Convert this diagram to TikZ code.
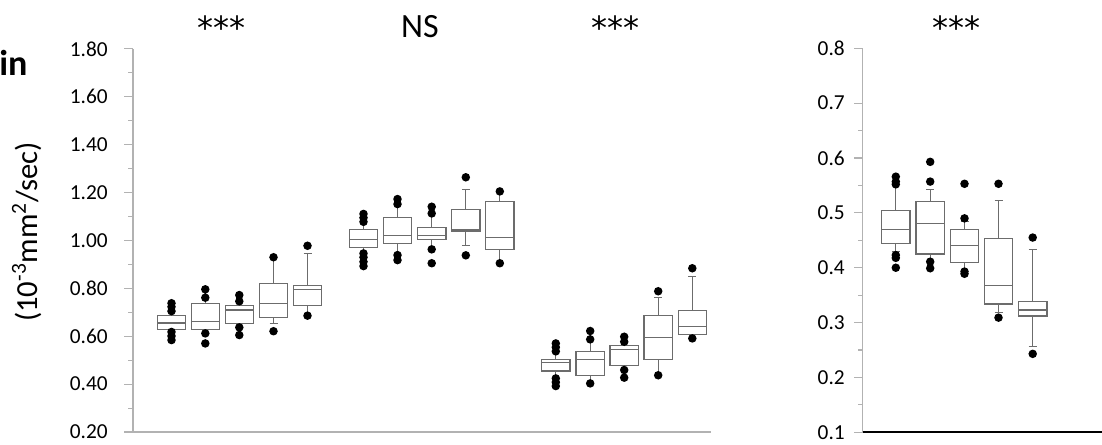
\documentclass[tikz,border=0pt]{standalone}
\usepackage{fontspec}
\setmainfont{Carlito}
\newfontfamily\starfont{DejaVu Sans}

\begin{document}
\begin{tikzpicture}[
		x=0.75pt, y=-0.75pt,
		box/.style={
			draw=gray!85!black,
			line width=0.9pt
		},
		whisker/.style={
			draw=gray!85!black,
			line width=0.6pt
		},
		dot/.style={
			fill=black
		},
		axis/.style={
			draw=gray!60,
			line width=0.8pt
		},
		ticklabel/.style={
			anchor=east,
			inner sep=0pt,
			font=\fontsize{16}{19}\selectfont
		},
		title/.style={
			anchor=base,
			inner sep=0pt,
			font=\fontsize{25.5}{30}\selectfont
		},
		stars/.style={
			anchor=base,
			inner sep=0pt,
			font=\fontsize{24}{28}\starfont
		}
		]
		\useasboundingbox (0,0) rectangle (1102,444);
		
		% Texto cortado y unidades
		\node[anchor=base west, inner sep=0pt, font=\fontsize{27}{30}\selectfont\bfseries] (cut) at (-1,75) {in};
		\node[rotate=90, inner sep=0pt, font=\fontsize{23}{27}\selectfont] (unit) at (27,232) {(10\textsuperscript{-3}mm\textsuperscript{2}/sec)};
		
		% Significancia
		\node[stars] (sig1) at (221,39) {***};
		\node[title] (sig2) at (420,37) {NS};
		\node[stars] (sig3) at (615,39) {***};
		\node[stars] (sig4) at (956,39) {***};
		
		% Panel izquierdo
		\begin{scope}[shift={(0,479.88)}, y=179.55pt]
			\draw[axis] (133,1.8) -- (133,0.2) -- (711,0.2);
			\foreach \v/\t [count=\i] in {0.2/0.20, 0.4/0.40, 0.6/0.60, 0.8/0.80, 1.0/1.00, 1.2/1.20, 1.4/1.40, 1.6/1.60, 1.8/1.80} {
				\draw[axis] (124,\v) -- (133,\v);
				\node[ticklabel] (left\i) at (108,\v) {\t};
			}
			\foreach \v in {0.3,0.5,...,1.7}
				\draw[axis] (128,\v) -- (133,\v);
			
			% Primer grupo
			\draw[whisker] (171.5,0.686) -- (171.5,0.705) (171.5,0.629) -- (171.5,0.618);
			\draw[box] (157.3,0.629) rectangle (185.7,0.686) (157.3,0.655) -- (185.7,0.655);
			\fill[dot] (171.5,0.738) circle (3.2pt) (171.5,0.723) circle (3.2pt) (171.5,0.705) circle (3.2pt) (171.5,0.618) circle (3.2pt) (171.5,0.601) circle (3.2pt) (171.5,0.584) circle (3.2pt);
			
			\draw[whisker] (205.3,0.738) -- (205.3,0.761) (205.3,0.629) -- (205.3,0.612);
			\draw[box] (191.1,0.629) rectangle (219.5,0.738) (191.1,0.662) -- (219.5,0.662);
			\fill[dot] (205.3,0.796) circle (3.2pt) (205.3,0.761) circle (3.2pt) (205.3,0.612) circle (3.2pt) (205.3,0.570) circle (3.2pt);
			
			\draw[whisker] (239.3,0.729) -- (239.3,0.746) (239.3,0.654) -- (239.3,0.637);
			\draw[box] (225.1,0.654) rectangle (253.5,0.729) (225.1,0.710) -- (253.5,0.710);
			\fill[dot] (239.3,0.772) circle (3.2pt) (239.3,0.746) circle (3.2pt) (239.3,0.637) circle (3.2pt) (239.3,0.605) circle (3.2pt);
			
			\draw[whisker] (273.5,0.820) -- (273.5,0.930) (273.5,0.679) -- (273.5,0.654) (269.5,0.654) -- (277.5,0.654);
			\draw[box] (259.3,0.679) rectangle (287.7,0.820) (259.3,0.738) -- (287.7,0.738);
			\fill[dot] (273.5,0.930) circle (3.2pt) (273.5,0.621) circle (3.2pt);
			
			\draw[whisker] (307.5,0.811) -- (307.5,0.945) (303.5,0.945) -- (311.5,0.945) (307.5,0.729) -- (307.5,0.686);
			\draw[box] (293.3,0.729) rectangle (321.7,0.811) (293.3,0.796) -- (321.7,0.796);
			\fill[dot] (307.5,0.978) circle (3.2pt) (307.5,0.686) circle (3.2pt);
			
			% Segundo grupo
			\draw[whisker] (363.5,1.047) -- (363.5,1.078) (363.5,0.970) -- (363.5,0.946);
			\draw[box] (349.3,0.970) rectangle (377.7,1.047) (349.3,1.005) -- (377.7,1.005);
			\fill[dot] (363.5,1.111) circle (3.2pt) (363.5,1.095) circle (3.2pt) (363.5,1.078) circle (3.2pt) (363.5,0.946) circle (3.2pt) (363.5,0.930) circle (3.2pt) (363.5,0.911) circle (3.2pt) (363.5,0.893) circle (3.2pt);
			
			\draw[whisker] (397.5,1.097) -- (397.5,1.152) (397.5,0.987) -- (397.5,0.939);
			\draw[box] (383.3,0.987) rectangle (411.7,1.097) (383.3,1.020) -- (411.7,1.020);
			\fill[dot] (397.5,1.173) circle (3.2pt) (397.5,1.152) circle (3.2pt) (397.5,0.939) circle (3.2pt) (397.5,0.918) circle (3.2pt);
			
			\draw[whisker] (431.7,1.053) -- (431.7,1.113) (431.7,1.005) -- (431.7,0.963);
			\draw[box] (417.5,1.005) rectangle (445.9,1.053) (417.5,1.022) -- (445.9,1.022);
			\fill[dot] (431.7,1.141) circle (3.2pt) (431.7,1.113) circle (3.2pt) (431.7,0.963) circle (3.2pt) (431.7,0.905) circle (3.2pt);
			
			\draw[whisker] (465.8,1.130) -- (465.8,1.212) (461.8,1.212) -- (469.8,1.212) (465.8,1.040) -- (465.8,0.978) (461.8,0.978) -- (469.8,0.978);
			\draw[box] (451.6,1.040) rectangle (480.0,1.130) (451.6,1.044) -- (480.0,1.044);
			\fill[dot] (465.8,1.264) circle (3.2pt) (465.8,0.938) circle (3.2pt);
			
			\draw[whisker] (499.8,1.162) -- (499.8,1.205) (499.8,0.963) -- (499.8,0.905);
			\draw[box] (485.6,0.963) rectangle (514.0,1.162) (485.6,1.013) -- (514.0,1.013);
			\fill[dot] (499.8,1.205) circle (3.2pt) (499.8,0.905) circle (3.2pt);
			
			% Tercer grupo
			\draw[whisker] (555.8,0.504) -- (555.8,0.537) (555.8,0.455) -- (555.8,0.424);
			\draw[box] (541.6,0.455) rectangle (570.0,0.504) (541.6,0.489) -- (570.0,0.489);
			\fill[dot] (555.8,0.570) circle (3.2pt) (555.8,0.554) circle (3.2pt) (555.8,0.537) circle (3.2pt) (555.8,0.424) circle (3.2pt) (555.8,0.408) circle (3.2pt) (555.8,0.392) circle (3.2pt);
			
			\draw[whisker] (590.2,0.537) -- (590.2,0.587) (590.2,0.437) -- (590.2,0.403);
			\draw[box] (576.0,0.437) rectangle (604.4,0.537) (576.0,0.504) -- (604.4,0.504);
			\fill[dot] (590.2,0.622) circle (3.2pt) (590.2,0.587) circle (3.2pt) (590.2,0.403) circle (3.2pt);
			
			\draw[whisker] (624.2,0.560) -- (624.2,0.577) (624.2,0.477) -- (624.2,0.459);
			\draw[box] (610.0,0.477) rectangle (638.4,0.560) (610.0,0.545) -- (638.4,0.545);
			\fill[dot] (624.2,0.598) circle (3.2pt) (624.2,0.577) circle (3.2pt) (624.2,0.459) circle (3.2pt) (624.2,0.427) circle (3.2pt);
			
			\draw[whisker] (658.2,0.687) -- (658.2,0.763) (654.2,0.763) -- (662.2,0.763) (658.2,0.502) -- (658.2,0.437);
			\draw[box] (644.0,0.502) rectangle (672.4,0.687) (644.0,0.594) -- (672.4,0.594);
			\fill[dot] (658.2,0.788) circle (3.2pt) (658.2,0.437) circle (3.2pt);
			
			\draw[whisker] (692.3,0.707) -- (692.3,0.849) (688.3,0.849) -- (696.3,0.849) (692.3,0.608) -- (692.3,0.591);
			\draw[box] (678.1,0.608) rectangle (706.5,0.707) (678.1,0.640) -- (706.5,0.640);
			\fill[dot] (692.3,0.884) circle (3.2pt) (692.3,0.591) circle (3.2pt);
		\end{scope}
		
		% Panel derecho
		\begin{scope}[shift={(0,487.16)}, y=411.45pt]
			\draw[axis] (862.7,0.8) -- (862.7,0.1);
			\draw[line width=1.5pt] (862.7,0.1) -- (1102,0.1);
			\foreach \v/\t [count=\i] in {0.1/0.1, 0.2/0.2, 0.3/0.3, 0.4/0.4, 0.5/0.5, 0.6/0.6, 0.7/0.7, 0.8/0.8} {
				\draw[axis] (854,\v) -- (862.7,\v);
				\node[ticklabel] (right\i) at (845,\v) {\t};
			}
			\foreach \v in {0.15,0.25,...,0.75}
				\draw[axis] (858,\v) -- (862.7,\v);
			
			\draw[whisker] (895.8,0.505) -- (895.8,0.552) (895.8,0.444) -- (895.8,0.429) (891.8,0.429) -- (899.8,0.429);
			\draw[box] (881.6,0.444) rectangle (910.0,0.505) (881.6,0.469) -- (910.0,0.469);
			\fill[dot] (895.8,0.566) circle (3.2pt) (895.8,0.557) circle (3.2pt) (895.8,0.552) circle (3.2pt) (895.8,0.423) circle (3.2pt) (895.8,0.418) circle (3.2pt) (895.8,0.400) circle (3.2pt);
			
			\draw[whisker] (930.2,0.520) -- (930.2,0.542) (926.2,0.542) -- (934.2,0.542) (930.2,0.425) -- (930.2,0.411);
			\draw[box] (916.0,0.425) rectangle (944.4,0.520) (916.0,0.480) -- (944.4,0.480);
			\fill[dot] (930.2,0.593) circle (3.2pt) (930.2,0.557) circle (3.2pt) (930.2,0.411) circle (3.2pt) (930.2,0.399) circle (3.2pt);
			
			\draw[whisker] (964.5,0.469) -- (964.5,0.484) (960.5,0.484) -- (968.5,0.484) (964.5,0.410) -- (964.5,0.393);
			\draw[box] (950.3,0.410) rectangle (978.7,0.469) (950.3,0.440) -- (978.7,0.440);
			\fill[dot] (964.5,0.553) circle (3.2pt) (964.5,0.490) circle (3.2pt) (964.5,0.393) circle (3.2pt) (964.5,0.389) circle (3.2pt);
			
			\draw[whisker] (998.5,0.454) -- (998.5,0.523) (994.5,0.523) -- (1002.5,0.523) (998.5,0.334) -- (998.5,0.319) (994.5,0.319) -- (1002.5,0.319);
			\draw[box] (984.3,0.334) rectangle (1012.7,0.454) (984.3,0.367) -- (1012.7,0.367);
			\fill[dot] (998.5,0.553) circle (3.2pt) (998.5,0.309) circle (3.2pt);
			
			\draw[whisker] (1032.7,0.338) -- (1032.7,0.434) (1028.7,0.434) -- (1036.7,0.434) (1032.7,0.312) -- (1032.7,0.257) (1028.7,0.257) -- (1036.7,0.257);
			\draw[box] (1018.5,0.312) rectangle (1046.9,0.338) (1018.5,0.323) -- (1046.9,0.323);
			\fill[dot] (1032.7,0.455) circle (3.2pt) (1032.7,0.243) circle (3.2pt);
		\end{scope}
		
\end{tikzpicture}
\end{document}
